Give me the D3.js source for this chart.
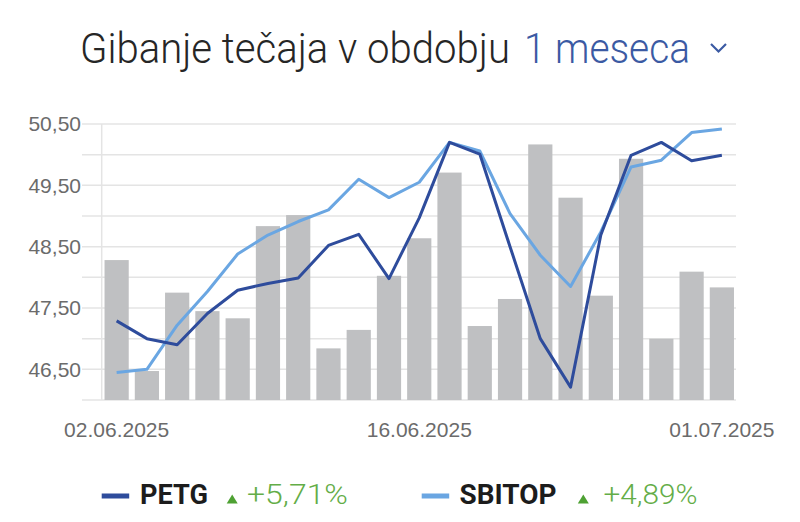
<!DOCTYPE html>
<html><head><meta charset="utf-8">
<script src="https://cdn.jsdelivr.net/npm/d3@7"></script>
<style>html,body{margin:0;padding:0;background:#fff;}svg{display:block;}</style>
</head><body>
<script>
const dates = ["02.06.2025","03.06.2025","04.06.2025","05.06.2025","06.06.2025","09.06.2025","10.06.2025","11.06.2025","12.06.2025","13.06.2025","16.06.2025","17.06.2025","18.06.2025","19.06.2025","20.06.2025","23.06.2025","24.06.2025","26.06.2025","27.06.2025","30.06.2025","01.07.2025"];
const petg = [47.29,47.00,46.90,47.41,47.79,47.90,47.99,48.52,48.70,47.98,48.97,50.20,50.01,48.50,47.00,46.21,48.69,49.99,50.20,49.90,49.99];
const sbitop = [46.45,46.50,47.22,47.77,48.38,48.69,48.91,49.10,49.60,49.30,49.55,50.20,50.06,49.04,48.36,47.85,48.74,49.80,49.91,50.36,50.42];
const volume = [50.7,10.5,38.9,32.2,29.6,63.0,67.0,18.7,25.4,45.0,58.6,82.4,26.8,36.6,92.6,73.3,37.8,87.4,22.2,46.5,40.8];
const xTickLabels = ["02.06.2025","16.06.2025","01.07.2025"];
const yLabelValues = [46.5,47.5,48.5,49.5,50.5];
const yGridValues = [46.0,46.5,47.0,47.5,48.0,48.5,49.0,49.5,50.0,50.5];
const legendItems = [{name:"PETG", change:"+5,71%"},{name:"SBITOP", change:"+4,89%"}];
const titleMain = "Gibanje tečaja v obdobju";
const titlePeriod = "1 meseca";

const W = 800, H = 522;
const svg = d3.select("body").append("svg").attr("width", W).attr("height", H);

const x = d3.scaleBand().domain(dates).range([101.5, 737]).paddingInner(0.2).paddingOuter(0.1);
const y = d3.scaleLinear().domain([46, 50.5]).range([400, 124]);
const yv = d3.scaleLinear().domain([0, 100]).range([400, 124]);
const fmt = v => d3.format(".2f")(v).replace(".", ",");

// Title
svg.append("text").attr("x", 80).attr("y", 63)
  .attr("font-family", "Roboto, 'Open Sans', sans-serif").attr("font-weight", 300)
  .attr("font-size", 43).attr("fill", "#262626").text(titleMain)
  .attr("textLength", 430).attr("lengthAdjust", "spacingAndGlyphs");
svg.append("text").attr("x", 524).attr("y", 63)
  .attr("font-family", "Roboto, 'Open Sans', sans-serif").attr("font-weight", 300)
  .attr("font-size", 43).attr("fill", "#3b5aa3").text(titlePeriod)
  .attr("textLength", 166).attr("lengthAdjust", "spacingAndGlyphs");
svg.append("path").attr("d", "M711,44 L718.5,51.5 L726,44")
  .attr("fill", "none").attr("stroke", "#3b5aa3").attr("stroke-width", 2.2);

// Grid
const grid = svg.append("g").attr("class", "grid");
grid.selectAll("line.h").data(yGridValues).join("line").attr("class", "h")
  .attr("x1", 82).attr("x2", 736)
  .attr("y1", d => y(d)).attr("y2", d => y(d))
  .attr("stroke", "#e4e4e4").attr("stroke-width", 1.5);
grid.append("line").attr("x1", 101.7).attr("x2", 101.7)
  .attr("y1", y(50.5)).attr("y2", y(46))
  .attr("stroke", "#e4e4e4").attr("stroke-width", 1.5);

// Y axis labels
const yAxis = d3.axisLeft(y).tickValues(yLabelValues).tickFormat(fmt).tickSize(0).tickPadding(0);
const ga = svg.append("g").attr("transform", "translate(81,0)").call(yAxis);
ga.select(".domain").remove();
ga.selectAll("text").attr("font-family", "'Liberation Sans', Arial, sans-serif")
  .attr("font-size", 21).attr("fill", "#6b6b6b").attr("dy", "0.33em");

// Bars
svg.append("g").selectAll("rect").data(dates).join("rect")
  .attr("x", d => x(d)).attr("width", x.bandwidth())
  .attr("y", (d, i) => yv(volume[i])).attr("height", (d, i) => yv(0) - yv(volume[i]))
  .attr("fill", "#bfc0c2");

// X axis labels
const xAxis = d3.axisBottom(x).tickValues(xTickLabels).tickSize(0).tickPadding(0);
const gx = svg.append("g").attr("transform", "translate(0,422)").call(xAxis);
gx.select(".domain").remove();
gx.selectAll("text").attr("font-family", "'Liberation Sans', Arial, sans-serif")
  .attr("font-size", 21).attr("fill", "#6b6b6b").attr("dy", "0.71em");

// Lines
const cx = d => x(d) + x.bandwidth() / 2;
const lineGen = vals => d3.line().x((d, i) => cx(dates[i])).y(d => y(d))(vals);
svg.append("path").attr("d", lineGen(sbitop)).attr("fill", "none")
  .attr("stroke", "#6aa6e2").attr("stroke-width", 3).attr("stroke-linejoin", "round");
svg.append("path").attr("d", lineGen(petg)).attr("fill", "none")
  .attr("stroke", "#2e4c9c").attr("stroke-width", 3).attr("stroke-linejoin", "round");

// Legend
const legendColors = ["#2e4c9c", "#6aa6e2"];
const legendLayout = [
  {dash:101.7, name:140, nameW:68, tri:232.2, chg:247, chgW:101},
  {dash:421.7, name:459.5, nameW:97, tri:583.3, chg:603.5, chgW:94}
];
const lg = svg.append("g");
legendItems.forEach((it, i) => {
  const L = legendLayout[i];
  lg.append("rect").attr("x", L.dash).attr("y", 493.5).attr("width", 27.5).attr("height", 5)
    .attr("fill", legendColors[i]);
  lg.append("text").attr("x", L.name).attr("y", 503.5)
    .attr("font-family", "Roboto, 'Open Sans', sans-serif").attr("font-weight", 700)
    .attr("font-size", 27).attr("fill", "#1c1c1c").text(it.name)
    .attr("textLength", L.nameW).attr("lengthAdjust", "spacingAndGlyphs");
  lg.append("path").attr("d", `M${L.tri - 5.5},503.5 L${L.tri + 5.5},503.5 L${L.tri},494.5 Z`)
    .attr("fill", "#4ea133");
  lg.append("text").attr("x", L.chg).attr("y", 503.5)
    .attr("font-family", "Roboto, 'Open Sans', sans-serif").attr("font-weight", 300)
    .attr("font-size", 27).attr("fill", "#63ad47").text(it.change)
    .attr("textLength", L.chgW).attr("lengthAdjust", "spacingAndGlyphs");
});
</script>
</body></html>
